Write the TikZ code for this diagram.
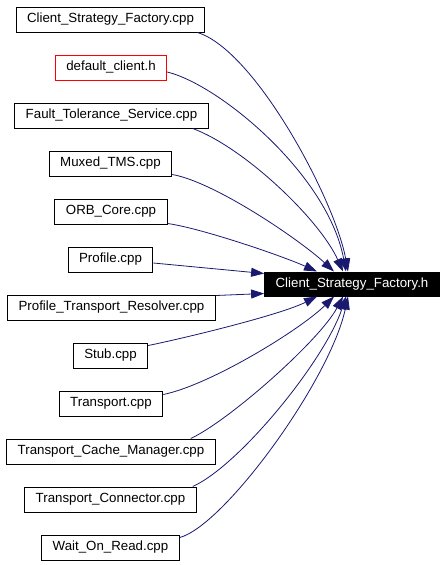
\documentclass[tikz,border=0pt]{standalone}
\usepackage{fontspec}
\setmainfont{Liberation Sans}
\usetikzlibrary{arrows.meta}
\definecolor{edgeblue}{HTML}{191970}
\begin{document}
\begin{tikzpicture}[x=1pt, y=-1pt,
  file/.style={draw, line width=1pt, inner xsep=11pt, inner ysep=0pt, minimum height=25pt, font=\fontsize{13.3}{16}\selectfont},
  dep/.style={draw=edgeblue, line width=0.8pt, -{Triangle[length=13pt, width=9pt]}}]
\useasboundingbox (0,0) rectangle (445,565);
\node[file, fill=black, text=white, minimum height=24pt] (csfh) at (352,284){Client\_Strategy\_Factory.h};
\node[file] (csfcpp) at (110.5,19.5){Client\_Strategy\_Factory.cpp};
\draw[dep] ([xshift=-8pt]csfcpp.south east) .. controls (255,50) and (335,200) .. ([xshift=-4pt]csfh.north);
\node[file, draw=red] (defclient) at (111,67.5){default\_client.h};
\draw[dep] ([yshift=-4.5pt]defclient.east) .. controls (220,85) and (328,175) .. ([xshift=-6pt]csfh.north);
\node[file] (fts) at (111.5,115.5){Fault\_Tolerance\_Service.cpp};
\draw[dep] ([xshift=-16pt]fts.south east) .. controls (245,148) and (320,220) .. ([xshift=-9pt]csfh.north);
\node[file] (muxed) at (110.5,163.5){Muxed\_TMS.cpp};
\draw[dep] ([yshift=2pt]muxed.south east) .. controls (215,182) and (300,240) .. ([xshift=-18pt]csfh.north);
\node[file] (orbcore) at (111,211.5){ORB\_Core.cpp};
\draw[dep] ([yshift=1pt]orbcore.south east) .. controls (200,228) and (280,255) .. ([xshift=-35pt]csfh.north);
\node[file] (profile) at (110.5,259.5){Profile.cpp};
\draw[dep] ([yshift=-3.5pt]profile.east) -- ([yshift=-2pt]csfh.north west);
\node[file] (ptr) at (111.5,307.5){Profile\_Transport\_Resolver.cpp};
\draw[dep] ([yshift=-1pt]ptr.north east) -- ([yshift=3pt]csfh.south west);
\node[file] (stub) at (110.5,355.5){Stub.cpp};
\draw[dep] ([yshift=-3pt]stub.north east) .. controls (185,338) and (280,315) .. ([xshift=-35pt]csfh.south);
\node[file] (transport) at (111,403.5){Transport.cpp};
\draw[dep] ([yshift=-4pt]transport.north east) .. controls (210,385) and (300,330) .. ([xshift=-18pt]csfh.south);
\node[file] (tcm) at (111,451.5){Transport\_Cache\_Manager.cpp};
\draw[dep] ([xshift=-25pt]tcm.north east) .. controls (230,420) and (320,340) .. ([xshift=-9pt]csfh.south);
\node[file] (tconn) at (110.5,499.5){Transport\_Connector.cpp};
\draw[dep] ([xshift=-4pt]tconn.north east) .. controls (240,465) and (325,360) .. ([xshift=-6pt]csfh.south);
\node[file] (wor) at (110.5,547.5){Wait\_On\_Read.cpp};
\draw[dep] ([yshift=-3pt]wor.north east) .. controls (225,525) and (330,380) .. ([xshift=-4pt]csfh.south);

\end{tikzpicture}
\end{document}
